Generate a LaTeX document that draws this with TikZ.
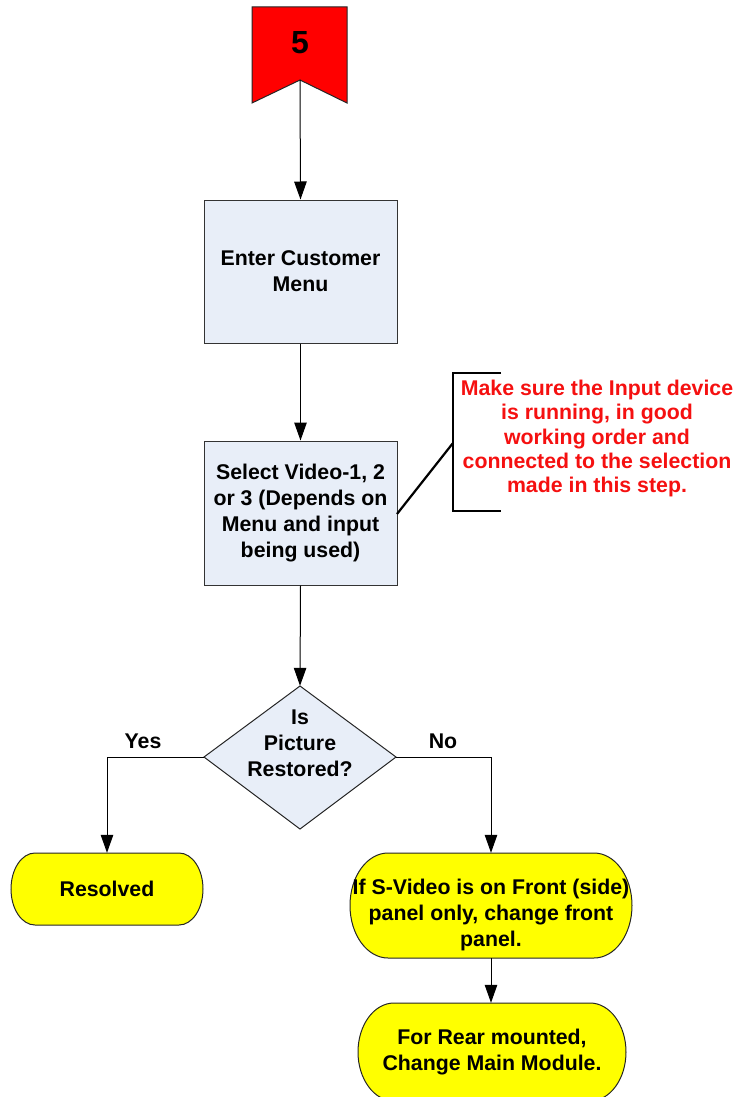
\documentclass[tikz,border=0pt]{standalone}
\usepackage{fontspec}
\setmainfont{Liberation Sans}
\usetikzlibrary{arrows.meta,calc}

\definecolor{procfill}{HTML}{E8EEF8}
\definecolor{termfill}{HTML}{FFFF00}
\definecolor{flagred}{HTML}{FF0000}
\definecolor{notered}{HTML}{F51010}

\tikzset{
  txt/.style={font=\bfseries\fontsize{21.3}{26}\selectfont, align=center, inner sep=0pt, text=black},
  notetxt/.style={font=\bfseries\fontsize{21.3}{24.4}\selectfont, align=center, inner sep=0pt, text=notered},
  procbox/.style={draw=black!80, fill=procfill, line width=1pt, minimum width=193pt, minimum height=143pt, inner sep=0pt},
  holder/.style={inner sep=0pt},
  termline/.style={draw=black!85, fill=termfill, line width=1pt},
  arr/.style={draw=black, line width=1pt, -{Triangle[length=18pt,width=12.5pt]}},
  bracket/.style={draw=black, line width=2.5pt},
}

\begin{document}
\begin{tikzpicture}[x=1pt,y=1pt]
  \useasboundingbox (0,0) rectangle (738,-1097);

  % off-page connector flag
  \draw[draw=black!85, fill=flagred, line width=1pt]
    (252,-7) -- (347,-7) -- (347,-103) -- (300,-80) -- (252,-103) -- cycle;
  \node[font=\bfseries\fontsize{32}{32}\selectfont, inner sep=0pt] (flag) at (300,-43) {5};
  \coordinate (flagtip) at (300,-80);

  % process steps
  \node[procbox, txt] (menu) at (300.5,-271.5) {Enter Customer\\Menu};
  \node[procbox, txt, minimum height=144pt] (video) at (300.5,-513)
    {Select Video-1, 2\\or 3 (Depends on\\Menu and input\\being used)};

  % decision
  \draw[draw=black!85, fill=procfill, line width=1pt]
    (300,-686) -- (396,-757) -- (300,-829) -- (204,-757) -- cycle;
  \node[holder, minimum width=192pt, minimum height=143pt] (dec) at (300,-757.5) {};
  \node[txt] (dectext) at (300,-743) {Is\\Picture\\Restored?};

  % terminators with elliptical ends
  \draw[termline] (35,-853) -- (179,-853)
    arc[start angle=90, end angle=-90, x radius=24, y radius=36] -- (35,-925)
    arc[start angle=270, end angle=90, x radius=24, y radius=36] -- cycle;
  \node[holder, minimum width=192pt, minimum height=72pt] (res) at (107,-889) {};
  \node[txt] (restext) at (107,-889) {Resolved};

  \draw[termline] (388,-853) -- (594,-853)
    arc[start angle=90, end angle=-90, x radius=38, y radius=52.5] -- (388,-958)
    arc[start angle=270, end angle=90, x radius=38, y radius=52.5] -- cycle;
  \node[holder, minimum width=282pt, minimum height=105pt] (front) at (491,-905.5) {};
  \node[txt] (fronttext) at (491,-915)
    {If S-Video is on Front (side)\\panel only, change front\\panel.};

  \draw[termline] (394,-1003) -- (590,-1003)
    arc[start angle=90, end angle=-90, x radius=36, y radius=49] -- (394,-1101)
    arc[start angle=270, end angle=90, x radius=36, y radius=49] -- cycle;
  \node[holder, minimum width=268pt, minimum height=98pt] (rear) at (492,-1052) {};
  \node[txt] (reartext) at (492,-1052) {For Rear mounted,\\Change Main Module.};

  % connectors
  \draw[arr] (flagtip) -- (menu.north);
  \draw[arr] (menu.south) -- (video.north);
  \draw[arr] (video.south) -- (dec.north);
  \draw[arr] (dec.west) -| (res.north);
  \draw[arr] (dec.east) -| (front.north);
  \draw[arr] (front.south) -- (front.south |- rear.north);

  \node[txt] (yes) at (143,-741) {Yes};
  \node[txt] (no) at (443,-741) {No};

  % annotation
  \draw[bracket] (501,-373) -- (453,-373) -- (453,-511) -- (501,-511);
  \coordinate (bracketjoin) at (453,-443);
  \coordinate (boxjoin) at (397,-514);
  \draw[bracket, line width=2.2pt] (boxjoin) -- (bracketjoin);
  \node[notetxt] (note) at (597,-438.5)
    {Make sure the Input device\\is running, in good\\working order and\\connected to the selection\\made in this step.};
\end{tikzpicture}
\end{document}
